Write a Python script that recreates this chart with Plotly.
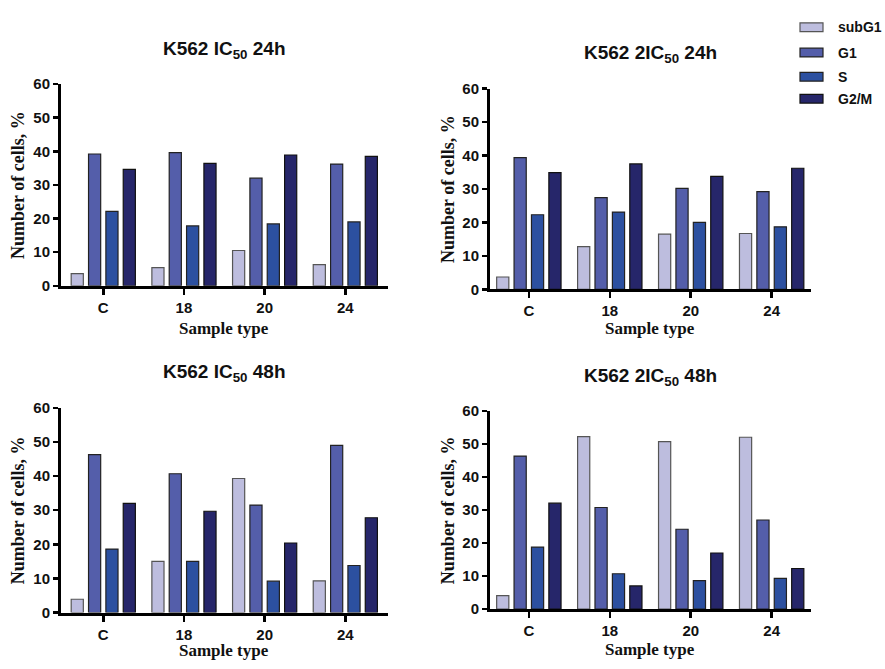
import plotly.graph_objects as go

W, H = 885, 669

categories = ["C", "18", "20", "24"]
phases = ["subG1", "G1", "S", "G2/M"]
colors = ["#BDBDDE", "#545EAA", "#2C50A0", "#26266A"]
outlines = ["#555555", "#222222", "#222222", "#111111"]

panel_titles = [
    "K562 IC<sub>50</sub> 24h",
    "K562 2IC<sub>50</sub> 24h",
    "K562 IC<sub>50</sub> 48h",
    "K562 2IC<sub>50</sub> 48h",
]

# values per panel, per phase (order of categories C, 18, 20, 24)
ic50_24h_subG1 = [3.6, 5.4, 10.5, 6.3]
ic50_24h_G1 = [39.2, 39.6, 32.0, 36.2]
ic50_24h_S = [22.1, 17.8, 18.4, 19.0]
ic50_24h_G2M = [34.6, 36.4, 38.9, 38.5]

ic2_24h_subG1 = [3.7, 12.8, 16.5, 16.7]
ic2_24h_G1 = [39.4, 27.4, 30.2, 29.2]
ic2_24h_S = [22.3, 23.1, 20.0, 18.7]
ic2_24h_G2M = [34.9, 37.5, 33.8, 36.2]

ic50_48h_subG1 = [3.9, 15.0, 39.3, 9.3]
ic50_48h_G1 = [46.3, 40.7, 31.5, 49.0]
ic50_48h_S = [18.6, 15.0, 9.2, 13.8]
ic50_48h_G2M = [32.0, 29.7, 20.4, 27.8]

ic2_48h_subG1 = [4.1, 52.3, 50.8, 52.1]
ic2_48h_G1 = [46.4, 30.8, 24.2, 27.0]
ic2_48h_S = [18.8, 10.7, 8.6, 9.3]
ic2_48h_G2M = [32.1, 7.0, 17.0, 12.3]

panels = [
    [ic50_24h_subG1, ic50_24h_G1, ic50_24h_S, ic50_24h_G2M],
    [ic2_24h_subG1, ic2_24h_G1, ic2_24h_S, ic2_24h_G2M],
    [ic50_48h_subG1, ic50_48h_G1, ic50_48h_S, ic50_48h_G2M],
    [ic2_48h_subG1, ic2_48h_G1, ic2_48h_S, ic2_48h_G2M],
]

y_ticks = [0, 10, 20, 30, 40, 50, 60]

# layout geometry in pixels: (x_left, x_right, y_top, y_bottom, x_range_pad)
geom = [
    (61, 387.6, 77, 284, 0.524),
    (490, 810.5, 81.7, 287.7, 0.48),
    (61, 387.6, 409.3, 619.3, 0.524),
    (490, 810.5, 412.7, 615.7, 0.48),
]
title_y = [42, 46, 374, 378]
xtitle_y = [328, 328, 658, 657]
ytitle_x = [18, 448, 18, 448]

SANS = "Liberation Sans, Arial, sans-serif"
SERIF = "Liberation Serif, Times New Roman, serif"

fig = go.Figure()
annotations = []

for p, series in enumerate(panels):
    ax = "" if p == 0 else str(p + 1)
    for k, vals in enumerate(series):
        fig.add_trace(go.Bar(
            x=categories, y=vals, name=phases[k],
            marker=dict(color=colors[k], line=dict(color=outlines[k], width=1.2)),
            xaxis="x" + ax, yaxis="y" + ax, showlegend=False,
            offsetgroup=str(k),
        ))
    xl, xr, yt, yb, pad = geom[p]
    xdom = [xl / W, xr / W]
    ydom = [1 - yb / H, 1 - yt / H]
    fig.update_layout(**{
        "xaxis" + ax: dict(
            domain=xdom, anchor="y" + ax, range=[-pad, 3 + pad],
            showline=True, linecolor="black", linewidth=3,
            ticks="outside", ticklen=6, tickwidth=2.5, tickcolor="black",
            tickfont=dict(family=SANS, size=15, color="#111", weight="bold"),
            showgrid=False, zeroline=False, fixedrange=True,
        ),
        "yaxis" + ax: dict(
            domain=ydom, anchor="x" + ax, range=[0, 60],
            tickvals=y_ticks,
            showline=True, linecolor="black", linewidth=3,
            ticks="outside", ticklen=5, tickwidth=2.5, tickcolor="black",
            tickfont=dict(family=SANS, size=15, color="#111", weight="bold"),
            showgrid=False, zeroline=False, fixedrange=True,
        ),
    })
    cx = (xl + xr) / 2 / W
    annotations.append(dict(
        text="<b>" + panel_titles[p] + "</b>", x=cx, y=1 - title_y[p] / H,
        xref="paper", yref="paper", xanchor="center", yanchor="middle",
        showarrow=False, font=dict(family=SANS, size=19, color="#111"),
    ))
    annotations.append(dict(
        text="<b>Sample type</b>", x=cx, y=1 - xtitle_y[p] / H,
        xref="paper", yref="paper", xanchor="center", yanchor="middle",
        showarrow=False, font=dict(family=SERIF, size=17, color="#111"),
    ))
    annotations.append(dict(
        text="<b>Number of cells, %</b>", x=ytitle_x[p] / W,
        y=1 - (yt + yb) / 2 / H, textangle=-90,
        xref="paper", yref="paper", xanchor="center", yanchor="middle",
        showarrow=False, font=dict(family=SERIF, size=18, color="#111"),
    ))

# legend (drawn from the phase names/colours)
shapes = []
leg_y = [18.7, 44.7, 69.5, 92]
for k, name in enumerate(phases):
    yc = leg_y[k]
    shapes.append(dict(
        type="rect", xref="paper", yref="paper",
        x0=800 / W, x1=823 / W, y0=1 - (yc + 4.5) / H, y1=1 - (yc - 4.5) / H,
        fillcolor=colors[k], line=dict(color=outlines[k], width=1.2),
    ))
    annotations.append(dict(
        text="<b>" + name + "</b>", x=836 / W, y=1 - yc / H,
        xref="paper", yref="paper", xanchor="left", yanchor="middle",
        showarrow=False, font=dict(family=SANS, size=14, color="#111"),
    ))

fig.update_layout(
    width=W, height=H, margin=dict(l=0, r=0, t=0, b=0),
    paper_bgcolor="white", plot_bgcolor="white",
    barmode="group", bargap=0.14, bargroupgap=0.3,
    annotations=annotations, shapes=shapes, showlegend=False,
)

fig.write_html(
    "out.html",
    config={"displayModeBar": False, "staticPlot": True},
    post_script="document.body.style.margin='0px';document.body.style.overflow='hidden';",
)
